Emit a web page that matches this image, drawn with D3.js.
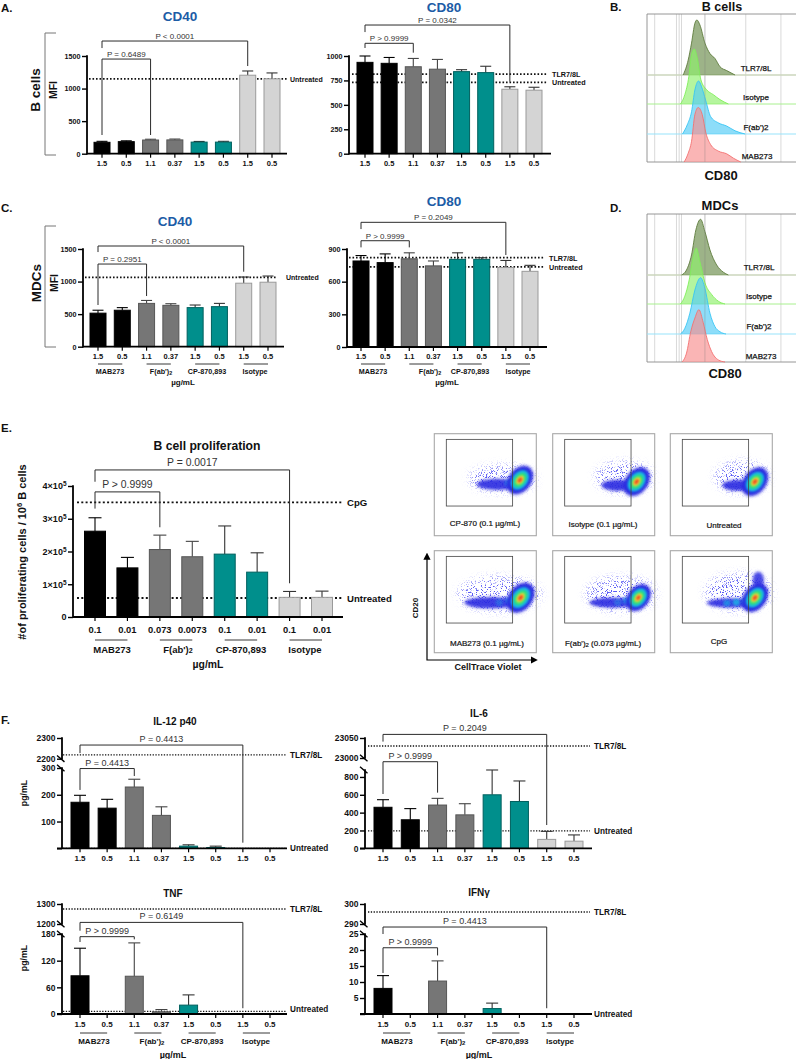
<!DOCTYPE html>
<html><head><meta charset="utf-8">
<script src="https://d3js.org/d3.v7.min.js"></script>
<style>html,body{margin:0;padding:0;background:#fff}svg{display:block;font-family:"Liberation Sans",Arial,sans-serif}</style>
</head><body><svg id="c" width="796" height="1059"></svg>
<script>
// ---------- DATA ----------
const doses = ['1.5','0.5','1.1','0.37','1.5','0.5','1.5','0.5'];
const prolifDoses = ['0.1','0.01','0.073','0.0073','0.1','0.01','0.1','0.01'];
const groupNames = ['MAB273',"F(ab')|2",'CP-870,893','Isotype'];

const a40Values = [175,185,210,212,178,178,1205,1150];
const a40Tops   = [190,198,222,225,188,190,1270,1240];
const a40Refs   = [['Untreated',1150]];
const a40Brackets = [[0,6,1730,1622,1346,'P < 0.0001'],[0,2,1453,287,287,'P = 0.6489']];

const a80Values = [935,925,890,865,840,830,660,650];
const a80Tops   = [1000,985,975,965,860,895,685,680];
const a80Refs   = [['TLR7/8L',815],['Untreated',730]];
const a80Brackets = [[0,6,1317,1245,737,'P = 0.0342'],[0,2,1130,1082,1034,'P > 0.9999']];

const c40Values = [515,560,665,635,600,615,975,990];
const c40Tops   = [560,600,710,660,640,665,1070,1085];
const c40Refs   = [['Untreated',1065]];
const c40Brackets = [[0,6,1546,1453,1151,'P < 0.0001'],[0,2,1269,640,778,'P = 0.2951']];

const c80Values = [790,775,810,745,805,805,730,695];
const c80Tops   = [840,855,865,790,865,820,795,750];
const c80Refs   = [['TLR7/8L',820],['Untreated',735]];
const c80Brackets = [[0,6,1145,1083,845,'P = 0.2049'],[0,2,976,915,915,'P > 0.9999']];

const prolifValues = [262000,150000,206000,184000,192000,137000,60000,60000];
const prolifTops   = [303000,182000,250000,231000,278000,196000,78000,79000];
const prolifRefs   = [['CpG',350000],['Untreated',58000]];
const prolifBrackets = [[0,6,449000,413000,103000,'P = 0.0017'],[0,2,382000,331000,274000,'P > 0.9999']];

const il12Values = [172,150,229,123,8,3,0,0];
const il12Tops   = [198,183,258,155,13,8,0,0];
const il12Refs   = [['TLR7/8L',2218],['Untreated',0]];
const il12Brackets = [[0,6,2266,2227,21,'P = 0.4413'],[0,2,298,218,270,'P = 0.4413']];

const il6Values = [460,320,485,375,600,525,100,80];
const il6Tops   = [545,445,560,500,895,755,190,150];
const il6Refs   = [['TLR7/8L',23030],['Untreated',195]];
const il6Brackets = [[0,6,23059,23041,261,'P = 0.2049'],[0,2,16170,609,624,'P > 0.9999']];

const tnfValues = [86,0,85,5,20,0,0,0];
const tnfTops   = [148,0,160,10,43,0,0,0];
const tnfRefs   = [['TLR7/8L',1275],['Untreated',6]];
const tnfBrackets = [[0,6,1208,517,13,'P = 0.6149'],[0,2,174,162,168,'P > 0.9999']];

const ifnValues = [8,0,10.3,0,1.7,0,0,0];
const ifnTops   = [12,0,16.6,0,3.4,0,0,0];
const ifnRefs   = [['TLR7/8L',296],['Untreated',0]];
const ifnBrackets = [[0,6,210,25,1.8,'P = 0.4413'],[0,2,20.7,12.8,18.3,'P > 0.9999']];

// flow histograms: [intensity, % of mode]
const histNames = ['TLR7/8L','Isotype',"F(ab')2",'MAB273'];
const bHist = [
 [[108,0],[123,27],[133,58],[143,94],[149,100],[158,91],[173,58],[188,39],[203,30],[218,15],[238,8],[263,0]],
 [[100,0],[113,17],[125,50],[133,90],[141,100],[150,84],[161,44],[178,26],[198,17],[218,8],[243,0]],
 [[106,0],[120,17],[133,42],[143,83],[154,100],[163,89],[175,64],[190,33],[213,21],[238,15],[263,6],[293,0]],
 [[111,0],[123,16],[133,38],[143,87],[153,100],[165,87],[176,53],[190,32],[213,20],[238,15],[258,7],[280,0]]];
const dHist = [
 [[103,0],[118,9],[133,36],[146,81],[160,100],[173,78],[188,45],[208,18],[228,5],[243,0]],
 [[100,0],[113,14],[126,43],[138,85],[147,100],[158,76],[173,38],[193,17],[213,5],[233,0]],
 [[100,0],[113,10],[128,37],[143,78],[160,100],[173,81],[188,37],[203,13],[218,4],[236,0]],
 [[105,0],[118,17],[131,59],[143,84],[155,100],[168,75],[180,43],[193,20],[213,4],[233,0]]];
const histGates = [23,88,96,103,173,295,400];

// flow density plots, read as density lobes
const flowNames = ['CP-870 (0.1 µg/mL)','Isotype (0.1 µg/mL)','Untreated','MAB273 (0.1 µg/mL)',"F(ab')|2 (0.073 µg/mL)",'CpG'];
const flowMain = [[257,139,.95],[252,144,.95],[254,144,.95],[259,141,1],[257,141,.9],[254,141,.95]];
const flowTail = [[190,152,62,17],[195,155,48,17],[200,155,44,16],[170,156,80,17],[180,156,70,15],[180,157,70,14]];
const flowSpots = [[[222,148,.45]],[],[],[[225,150,.55],[195,155,.35]],[[222,150,.6],[195,155,.35]],[[226,152,.9],[198,155,.8],[170,157,.6]]];
const flowHalo = [[205,135,100,38],[215,130,85,45],[215,130,80,45],[195,130,125,50],[205,130,105,50],[205,125,100,55]];

// ---------- STYLE / LAYOUT ----------
const svg = d3.select('#c');
const FILL = ['#000','#000','#767676','#767676','#008f8c','#008f8c','#d4d4d4','#d4d4d4'];
const EDGE = ['#000','#000','#555','#555','#00605e','#00605e','#9a9a9a','#9a9a9a'];
const ERR  = ['#000','#000','#444','#444','#333','#333','#333','#333'];

function txt(x,y,s,o={}){
  const t = svg.append('text').attr('x',x).attr('y',y).attr('text-anchor',o.anchor||'middle')
    .attr('dominant-baseline','central').attr('font-size',o.size||8).attr('font-weight',o.weight||'bold')
    .attr('fill',o.fill||'#111');
  if(o.rotate) t.attr('transform',`rotate(${o.rotate} ${x} ${y})`);
  if(o.stroke) t.attr('stroke',o.fill||'#111').attr('stroke-width',o.stroke);
  const parts = s.split('|');
  t.append('tspan').text(parts[0]);
  if(parts[1]){
    const m = parts[1].match(/^(\S+)(.*)$/);
    t.append('tspan').attr('dy',(o.size||8)*.3).attr('font-size',(o.size||8)*.75).text(m[1]);
    if(m[2]) t.append('tspan').attr('dy',-(o.size||8)*.3).text(m[2]);
  }
  return t;
}

function bars(p){
  const step = (p.c7-p.c0)/7;
  const x = d3.scaleBand().domain(d3.range(8)).range([p.c0-step/2,p.c7+step/2])
    .paddingInner(1-p.bw/step).paddingOuter((1-p.bw/step)/2);
  const y = d3.scaleLinear().domain(p.domain).range(p.range);
  const g = svg.append('g');
  const cx = i => x(i)+x.bandwidth()/2;

  // reference lines (behind bars)
  g.selectAll('.ref').data(p.refs).join('line')
    .attr('x1',p.refX[0]).attr('x2',p.refX[1]).attr('y1',d=>y(d[1])).attr('y2',d=>y(d[1]))
    .attr('stroke','#111').attr('stroke-width',p.refW||1.7).attr('stroke-dasharray',p.refDash||'1.6 1.9');

  // error bars
  const idx = d3.range(8).filter(i=>p.tops[i]>p.values[i]);
  g.selectAll('.e').data(idx).join('line').attr('x1',cx).attr('x2',cx)
    .attr('y1',i=>y(p.values[i])).attr('y2',i=>y(p.tops[i])).attr('stroke',i=>ERR[i]).attr('stroke-width',1.1);
  g.selectAll('.c').data(idx).join('line').attr('x1',i=>cx(i)-p.cap/2).attr('x2',i=>cx(i)+p.cap/2)
    .attr('y1',i=>y(p.tops[i])).attr('y2',i=>y(p.tops[i])).attr('stroke',i=>ERR[i]).attr('stroke-width',1.1);
  // bars
  g.selectAll('.b').data(d3.range(8).filter(i=>p.values[i]>0)).join('rect')
    .attr('x',i=>x(i)).attr('width',x.bandwidth()).attr('y',i=>y(p.values[i]))
    .attr('height',i=>y(0)-y(p.values[i])).attr('fill',i=>FILL[i]).attr('stroke',i=>EDGE[i]).attr('stroke-width',1);

  // x axis
  const ax = g.append('g').attr('transform',`translate(0,${y(0)})`)
    .call(d3.axisBottom(x).tickSize(4).tickPadding(p.xPad||3).tickFormat(i=>p.labels[i]));
  ax.select('.domain').remove();
  ax.selectAll('line').attr('stroke','#000').attr('stroke-width',1.2);
  ax.selectAll('text').attr('font-size',p.xFont||7.5).attr('font-weight','bold').attr('fill','#111')
    .attr('font-family','inherit');
  g.append('line').attr('x1',p.axisX-(p.xLeft||0)).attr('x2',p.xEnd).attr('y1',y(0)).attr('y2',y(0))
    .attr('stroke','#000').attr('stroke-width',1.8);

  // y axis
  const ay = g.append('g').attr('transform',`translate(${p.axisX},0)`)
    .call(d3.axisLeft(y).tickValues(p.ticks).tickSize(5).tickPadding(1.5).tickFormat(p.fmt||(d=>d)));
  ay.select('.domain').remove();
  ay.selectAll('line').attr('stroke','#000').attr('stroke-width',1.4);
  ay.selectAll('text').attr('font-size',p.yFont||7.2).attr('font-weight','bold').attr('fill','#111')
    .attr('font-family','inherit');
  if(p.sup){
    ay.selectAll('text').each(function(d){
      if(d===0) return;
      const t = d3.select(this).text(null);
      t.append('tspan').text((d/1e5)+'×10');
      t.append('tspan').attr('dy',-3).attr('font-size',(p.yFont||7)*.72).text('5');
    });
  }
  const segs = p.domain.length===4 ? [[p.domain[0],p.domain[1]],[p.domain[2],p.domain[3]]] : [[p.domain[0],p.domain[1]]];
  g.selectAll('.sg').data(segs).join('line').attr('x1',p.axisX).attr('x2',p.axisX)
    .attr('y1',d=>y(d[0])+.7).attr('y2',d=>y(d[1])-.7).attr('stroke','#000').attr('stroke-width',1.8);
  if(p.domain.length===4){
    g.selectAll('.br').data([p.domain[1],p.domain[2]]).join('line')
      .attr('x1',p.axisX-5).attr('x2',p.axisX+2.5)
      .attr('y1',d=>y(d)-3.2).attr('y2',d=>y(d)+3.2).attr('stroke','#000').attr('stroke-width',1.4);
  }

  // significance brackets
  p.brackets.forEach(b=>{
    const x0=cx(b[0]),x1=cx(b[1]);
    g.append('path').attr('d',d3.line()([[x0,y(b[3])],[x0,y(b[2])],[x1,y(b[2])],[x1,y(b[4])]]))
      .attr('fill','none').attr('stroke','#2b2b2b').attr('stroke-width',1);
    txt((x0+x1)/2,y(b[2])-(p.pGap||5),b[5],{size:p.pFont||8,weight:'normal',fill:'#333'});
  });

  // reference labels
  p.refs.forEach((r,i)=>{
    txt(p.refLabelX,y(r[1])+(p.refLabelDy?p.refLabelDy[i]:0),r[0],{anchor:'start',size:p.refFont||7});
  });

  // group underlines / names
  if(p.groups){
    [0,2,4,6].forEach((s,i)=>{
      g.append('line').attr('x1',cx(s)).attr('x2',cx(s+1)).attr('y1',p.groups.lineY).attr('y2',p.groups.lineY)
        .attr('stroke','#222').attr('stroke-width',.9);
      txt(p.groups.x[i],p.groups.y,groupNames[i],{size:p.groups.size||7.2});
    });
  }
  return {x,y};
}

const top8 = {bw:16,cap:11,labels:doses,ticks:[0,500,1000,1500]};

// Panel A
bars({...top8,c0:102,c7:272,axisX:87,xEnd:287,domain:[0,1500],range:[153.7,56],refX:[89,287],refLabelX:290,refFont:7,
  values:a40Values,tops:a40Tops,refs:a40Refs,brackets:a40Brackets});
bars({...top8,c0:365,c7:534,axisX:349,xEnd:551,domain:[0,1000],range:[153.7,56],ticks:[0,250,500,750,1000],
  values:a80Values,tops:a80Tops,refs:a80Refs,brackets:a80Brackets,refX:[352,547],refLabelX:552,refFont:7.2});
// Panel C
bars({...top8,c0:98,c7:268,axisX:83,xEnd:284,domain:[0,1500],range:[346.7,249],values:c40Values,tops:c40Tops,
  refs:c40Refs,brackets:c40Brackets,refX:[85,276],refLabelX:286,refFont:7,
  groups:{lineY:364,y:370.5,x:[110,161,207,255]}});
bars({...top8,c0:361,c7:530,axisX:347,xEnd:547,domain:[0,900],range:[347,249],ticks:[0,300,600,900],values:c80Values,tops:c80Tops,
  refs:c80Refs,brackets:c80Brackets,refX:[349,545],refLabelX:549,refFont:7.2,
  groups:{lineY:364,y:370.5,x:[373,430,470,518]}});
// Panel E
bars({c0:95,c7:322,bw:21,cap:13,axisX:73,xEnd:343,domain:[0,400000],range:[617,486],ticks:[0,1e5,2e5,3e5,4e5],sup:true,
  labels:prolifDoses,values:prolifValues,tops:prolifTops,refs:prolifRefs,brackets:prolifBrackets,refX:[77,343],refDash:'2 2.3',refW:1.8,
  refLabelX:347,refFont:9.6,xFont:9.4,yFont:9,xPad:5,pFont:10.4,pGap:8,
  groups:{lineY:640,y:648.5,x:[112,178,241,305],size:9.5}});
// Panel F
const noZero = d=> d===0?'':d;
const fBase = {bw:18,cap:12,labels:doses,xFont:8,yFont:8.5,xPad:3,pFont:9,pGap:6,refFont:8.2,refW:1.3,refDash:'1.3 1.5',xLeft:5};
const fL = {...fBase,c0:80,c7:270,axisX:62,xEnd:287,refX:[63,287],refLabelX:290};
const fR = {...fBase,c0:383,c7:574,axisX:365,xEnd:592,refX:[368,590],refLabelX:594};
bars({...fL,domain:[0,300,2200,2300],range:[848.3,768,758.7,738],ticks:[0,100,200,300,2200,2300],fmt:noZero,
  values:il12Values,tops:il12Tops,refs:il12Refs,brackets:il12Brackets});
bars({...fR,domain:[0,878,23000,23050],range:[848.3,770,758,738],ticks:[0,200,400,600,800,23000,23050],
  values:il6Values,tops:il6Tops,refs:il6Refs,brackets:il6Brackets});
bars({...fL,domain:[0,180,1200,1300],range:[1014,934,924,904],ticks:[0,60,120,180,1200,1300],
  values:tnfValues,tops:tnfTops,refs:tnfRefs,brackets:tnfBrackets,refLabelDy:[0,-2],
  groups:{lineY:1033,y:1040.5,x:[94,152,202,256],size:8}});
bars({...fR,domain:[0,25,290,300],range:[1014,934,924,904],ticks:[0,5,10,15,20,25,290,300],fmt:noZero,
  values:ifnValues,tops:ifnTops,refs:ifnRefs,brackets:ifnBrackets,
  groups:{lineY:1033,y:1040.5,x:[397,453,507,560],size:8}});

// Panel side brackets
[[33,155],[226,347]].forEach(([a,b])=>{
  svg.append('path').attr('d',d3.line()([[56,a],[45,a],[45,b],[56,b]])).attr('fill','none').attr('stroke','#777').attr('stroke-width',1);
});

// Histograms
const HC = [['#6b8b4b','#5e7c3c','#cbd6bd'],['#8ff06c','#7fee58','#a8f08e'],['#52cbf6','#38c5f4','#97e3fb'],['#f78e8e','#f47070','#f47070']];
function hist(data,top,bases,pct){
  const x = d3.scaleLinear().domain([0,445]).range([647,796]);
  svg.append('g').selectAll('line').data(histGates).join('line')
    .attr('x1',d=>x(d)).attr('x2',d=>x(d)).attr('y1',top).attr('y2',bases[3])
    .attr('stroke','#d9d9d9').attr('stroke-width',1);
  svg.append('path').attr('d',`M796,${top}H647V${bases[3]}H796`).attr('fill','none').attr('stroke','#8a8a8a').attr('stroke-width',.9);
  data.forEach((h,i)=>{
    const y = d3.scaleLinear().domain([0,100]).range([bases[i],bases[i]-pct[i]]);
    const area = d3.area().x(d=>x(d[0])).y0(y(0)).y1(d=>y(d[1])).curve(d3.curveMonotoneX);
    const line = d3.line().x(d=>x(d[0])).y(d=>y(d[1])).curve(d3.curveMonotoneX);
    if(i<3) svg.append('line').attr('x1',647).attr('x2',796).attr('y1',bases[i]).attr('y2',bases[i])
      .attr('stroke',HC[i][2]).attr('stroke-width',i===0?1.6:1);
    svg.append('path').attr('d',area(h)).attr('fill',HC[i][0]).attr('fill-opacity',.66);
    svg.append('path').attr('d',line(h)).attr('fill','none').attr('stroke',HC[i][1]).attr('stroke-width',.9);
  });
  svg.append('line').attr('x1',x(173)).attr('x2',x(173)).attr('y1',top).attr('y2',bases[3]).attr('stroke','#999').attr('stroke-opacity',.45).attr('stroke-width',.7);
}
hist(bHist,14,[75,104,134,162],[55,55,53,54.5]);
hist(dHist,214,[275,304,334,362],[55.7,56,56.3,52.3]);
const hOpt = {size:8,weight:'normal',stroke:.25};
[[756,68],[756,97],[756,127],[757,156]].forEach((p,i)=>txt(p[0],p[1],histNames[i],hOpt));
[[759,267],[759,296],[759,326],[761,356]].forEach((p,i)=>txt(p[0],p[1],histNames[i],hOpt));

// Flow density plots
const defs = svg.append('defs');
const blur = defs.append('filter').attr('id','bl').attr('x','-30%').attr('y','-30%').attr('width','160%').attr('height','160%');
blur.append('feGaussianBlur').attr('stdDeviation',.9);
const blur2 = defs.append('filter').attr('id','bl2').attr('x','-40%').attr('y','-40%').attr('width','180%').attr('height','180%');
blur2.append('feGaussianBlur').attr('stdDeviation',1.6);
const sp = defs.append('filter').attr('id','sp').attr('x','-40%').attr('y','-40%').attr('width','180%').attr('height','180%');
sp.append('feGaussianBlur').attr('stdDeviation',4).attr('result','soft');
sp.append('feTurbulence').attr('type','fractalNoise').attr('baseFrequency',1.2).attr('numOctaves',1).attr('seed',3).attr('result','n');
sp.append('feColorMatrix').attr('in','n').attr('type','matrix').attr('values','0 0 0 0 0  0 0 0 0 0  0 0 0 0 0  0 0 0 12 -6.8').attr('result','m');
sp.append('feComposite').attr('in','soft').attr('in2','m').attr('operator','in');

const colX = [434.3,552.7,670.3], rowY=[433.7,550.7], FW=102;
const LV = [[42,50,'#2a2ae0'],[29,35,'#18b8e6'],[20,26,'#2fe07a'],[12,16,'#f3e23a'],[6.5,9.5,'#ee3d22']];
const flowLabel = [[485,523],[603,524],[724,525],[487,643],[603,643],[719,641]];
flowNames.forEach((name,i)=>{
  const fx = colX[i%3], fy = rowY[Math.floor(i/3)];
  const sx = d3.scaleLinear().domain([0,306]).range([fx,fx+FW]);
  const sy = d3.scaleLinear().domain([0,306]).range([fy,fy+FW]);
  const k = FW/306;
  const g = svg.append('g');
  const halo = flowHalo[i];
  g.append('ellipse').attr('cx',sx(halo[0])).attr('cy',sy(halo[1])).attr('rx',halo[2]*k).attr('ry',halo[3]*k)
    .attr('fill','#5a5af5').attr('filter','url(#sp)');
  const tl = flowTail[i];
  g.append('ellipse').attr('cx',sx(tl[0])).attr('cy',sy(tl[1])).attr('rx',tl[2]*k).attr('ry',tl[3]*k)
    .attr('fill','#2a2ae0').attr('fill-opacity',.9).attr('filter','url(#bl2)');
  flowSpots[i].forEach(s=>{
    g.append('ellipse').attr('cx',sx(s[0])).attr('cy',sy(s[1])).attr('rx',11*k).attr('ry',10*k).attr('fill','#18b8e6').attr('fill-opacity',s[2]).attr('filter','url(#bl)');
  });
  if(i===5) g.append('ellipse').attr('cx',sx(264)).attr('cy',sy(88)).attr('rx',17*k).attr('ry',25*k).attr('fill','#2a2ae0').attr('fill-opacity',.85).attr('filter','url(#bl2)');
  const m = flowMain[i];
  LV.forEach((l,li)=>{
    g.append('ellipse').attr('cx',sx(m[0])).attr('cy',sy(m[1])).attr('rx',l[0]*m[2]*k*.85).attr('ry',l[1]*m[2]*k)
      .attr('fill',l[2]).attr('filter',li===0?'url(#bl2)':'url(#bl)')
      .attr('transform',`rotate(38 ${sx(m[0])} ${sy(m[1])})`);
  });
  g.append('rect').attr('x',fx).attr('y',fy).attr('width',FW).attr('height',FW).attr('fill','none').attr('stroke','#a8a8a8').attr('stroke-width',1.1);
  g.append('rect').attr('x',sx(36)).attr('y',sy(17)).attr('width',sx(235)-sx(36)).attr('height',sy(217)-sy(17)).attr('fill','none').attr('stroke','#444').attr('stroke-width',.8);
  txt(flowLabel[i][0],flowLabel[i][1],name,{size:8,weight:'normal',stroke:.2});
});
// Flow axes arrows
const arr = defs.append('marker').attr('id','ar').attr('viewBox','0 0 8 8').attr('refX',6).attr('refY',4)
  .attr('markerWidth',6).attr('markerHeight',6).attr('orient','auto');
arr.append('path').attr('d','M0,0L8,4L0,8Z').attr('fill','#000');
const arr2 = defs.append('marker').attr('id','ar2').attr('viewBox','0 0 8 8').attr('refX',2).attr('refY',4)
  .attr('markerWidth',6).attr('markerHeight',6).attr('orient','auto-start-reverse');
arr2.append('path').attr('d','M0,0L8,4L0,8Z').attr('fill','#000');
svg.append('path').attr('d','M427,558V660H536').attr('fill','none').attr('stroke','#000').attr('stroke-width',1.2)
  .attr('marker-end','url(#ar)').attr('marker-start','url(#ar2)');
txt(415,608,'CD20',{size:8,rotate:-90});
txt(488,667,'CellTrace Violet',{size:9});

// Titles & labels
const BLUE = '#1c5ca6';
txt(180,16,'CD40',{size:13.5,fill:BLUE});
txt(444,7,'CD80',{size:13.5,fill:BLUE});
txt(175,221,'CD40',{size:13.5,fill:BLUE});
txt(444,201,'CD80',{size:13.5,fill:BLUE});
txt(722,7,'B cells',{size:12.5});
txt(721,175,'CD80',{size:13});
txt(720,205,'MDCs',{size:13});
txt(725,373,'CD80',{size:13});
[['A.',1,8],['C.',1,208],['E.',1,428],['F.',1,720],['B.',610,7],['D.',610,208]].forEach(l=>txt(l[1],l[2],l[0],{anchor:'start',size:11.5}));
txt(35,90,'B cells',{size:13.5,rotate:-90});
txt(53,90,'MFI',{size:10.5,rotate:-90});
txt(36,283,'MDCs',{size:13.5,rotate:-90});
txt(54,283,'MFI',{size:10.5,rotate:-90});
txt(183,382,'µg/mL',{size:8});
txt(447,382,'µg/mL',{size:8});
txt(207,446,'B cell proliferation',{size:12.2});
txt(208,664,'µg/mL',{size:10.4});
const yt = txt(22,552,'#of proliferating cells / 10',{size:11,rotate:-90});
yt.append('tspan').attr('dy',-3.5).attr('font-size',7.5).text('6');
yt.append('tspan').attr('dy',3.5).text(' B cells');
txt(175,721,'IL-12 p40',{size:10});
txt(479,713,'IL-6',{size:10});
txt(173,893,'TNF',{size:10});
txt(479,892,'IFNγ',{size:10});
txt(24,793,'pg/mL',{size:8.8,rotate:-90});
txt(24,958,'pg/mL',{size:8.8,rotate:-90});
txt(173,1055,'µg/mL',{size:9});
txt(479,1055,'µg/mL',{size:9});
</script></body></html>
